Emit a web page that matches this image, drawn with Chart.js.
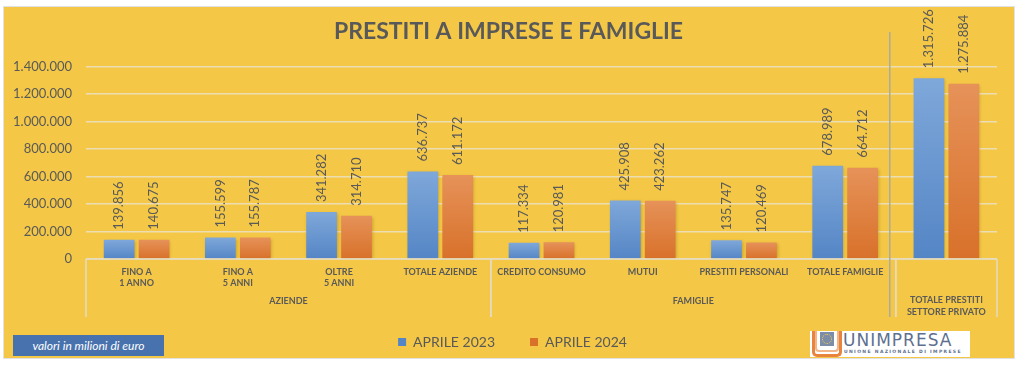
<!DOCTYPE html>
<html>
<head>
<meta charset="utf-8">
<script src="https://cdn.jsdelivr.net/npm/chart.js@4.4.1/dist/chart.umd.min.js"></script>
<style>
	body { margin: 0; background: #fff; }
	#panel { position: absolute; left: 3px; top: 6px; width: 1010px; height: 351px; background: #F4C846; border: 1px solid #E2E2E2; }
	#wrap { position: absolute; left: 0; top: 0; width: 1024px; height: 367px; }
	#nota { position: absolute; left: 13px; top: 335px; width: 151px; height: 21px; background: #4872AE; color: #fff;
		font: italic 12px Lato, sans-serif; line-height: 21px; text-align: center; }
	#logo { position: absolute; left: 810px; top: 331px; width: 160px; height: 26px; background: #fff; overflow: hidden; }
	#logo .u1 { position: absolute; left: 2px; top: -2px; width: 24px; height: 25px; border: 3px solid #E8843D; border-top: none; border-radius: 0 0 5px 5px; }
	#logo .u2 { position: absolute; left: 5px; top: -2px; width: 20px; height: 21px; border: 2px solid #F2B688; border-top: none; border-radius: 0 0 4px 4px; }
	#logo .eu { position: absolute; left: 10px; top: 1px; width: 14px; height: 14px; background: #7D8DA8; }
	#logo .eu div { position: absolute; left: 2px; top: 2px; width: 8px; height: 8px; border: 1px dotted #F3D24A; border-radius: 50%; }
	#logo .nome { position: absolute; left: 33px; top: 0px; font: 17px "DejaVu Sans", sans-serif; color: #5E7090; letter-spacing: 1px; line-height: 18px; }
	#logo .sotto { position: absolute; left: 34px; top: 18px; font: bold 4.5px "DejaVu Sans", sans-serif; color: #5E7090; letter-spacing: 1.35px; line-height: 6px; white-space: nowrap; }
</style>
</head>
<body>
<div id="panel"></div>
<div id="wrap"><canvas id="chart_prestiti"></canvas></div>
<div id="nota">valori in milioni di euro</div>
<div id="logo"><div class="u1"></div><div class="u2"></div><div class="eu"><div></div></div><span class="nome">UNIMPRESA</span><span class="sotto">UNIONE NAZIONALE DI IMPRESE</span></div>

<script>
// dati (milioni di euro)
const categorie = [
	["FINO A", "1 ANNO"], ["FINO A", "5 ANNI"], ["OLTRE", "5 ANNI"], "TOTALE AZIENDE",
	"CREDITO CONSUMO", "MUTUI", "PRESTITI PERSONALI", "TOTALE FAMIGLIE", ""
];
const aprile2023 = [139856, 155599, 341282, 636737, 117334, 425908, 135747, 678989, 1315726];
const aprile2024 = [140675, 155787, 314710, 611172, 120981, 423262, 120469, 664712, 1275884];
const gruppi = [["AZIENDE"], ["FAMIGLIE"], ["TOTALE PRESTITI", "SETTORE PRIVATO"]];
const gruppiInizio = [0, 4, 8];
const gruppiFine = [3, 7, 8];

const GRIGIO = "#595959";

function formatta(v) {
	return String(v).replace(/\B(?=(\d{3})+(?!\d))/g, ".");
}

function gradiente(c1, c2) {
	return function (context) {
		if (context.type !== "data") return c2;
		const chart = context.chart;
		if (!chart.chartArea) return c2;
		const y = chart.scales.y;
		const top = y.getPixelForValue(context.raw);
		const bottom = y.getPixelForValue(0);
		const g = chart.ctx.createLinearGradient(0, top, 0, bottom);
		g.addColorStop(0, c1);
		g.addColorStop(1, c2);
		return g;
	};
}

// etichette ruotate sopra le barre
const etichette = {
	id: "etichette",
	afterDatasetsDraw(chart) {
		const c = chart.ctx;
		c.save();
		c.fillStyle = GRIGIO;
		c.font = "13px Lato";
		c.textAlign = "left";
		c.textBaseline = "middle";
		chart.data.datasets.forEach((ds, i) => {
			chart.getDatasetMeta(i).data.forEach((bar, j) => {
				c.save();
				c.translate(bar.x, bar.y - 10);
				c.rotate(-Math.PI / 2);
				c.fillText(formatta(ds.data[j]), 0, 0);
				c.restore();
			});
		});
		c.restore();
	}
};

// ombra leggera delle barre
const ombra = {
	id: "ombra",
	beforeDatasetsDraw(chart) {
		const c = chart.ctx;
		c.save();
		c.shadowColor = "rgba(120, 80, 0, 0.35)";
		c.shadowBlur = 3;
		c.shadowOffsetX = 1;
		c.shadowOffsetY = 1;
	},
	afterDatasetsDraw(chart) {
		chart.ctx.restore();
	}
};

// titolo e legenda centrati sul riquadro giallo, non sul canvas
const centra = {
	id: "centra",
	afterLayout(chart) {
		chart.legend.left += 14;
		chart.legend.right += 14;
		chart.titleBlock.left += 10;
		chart.titleBlock.right += 10;
	}
};

// riquadro dell'asse x, gruppi e linea di separazione
const assex = {
	id: "assex",
	afterDraw(chart) {
		const c = chart.ctx;
		const x = chart.scales.x;
		const area = chart.chartArea;
		const passo = (area.right - area.left) / categorie.length;
		const fondo = area.bottom + 58;
		c.save();
		c.strokeStyle = "#E4DCC2";
		c.lineWidth = 1.5;
		c.beginPath();
		c.moveTo(area.left, area.bottom);
		c.lineTo(area.right, area.bottom);
		c.stroke();
		gruppi.forEach((g, i) => {
			const x0 = x.getPixelForValue(gruppiInizio[i]) - passo / 2;
			const x1 = x.getPixelForValue(gruppiFine[i]) + passo / 2;
			c.beginPath();
			c.moveTo(x0, area.bottom);
			c.lineTo(x0, fondo);
			c.moveTo(x1, area.bottom);
			c.lineTo(x1, fondo);
			c.stroke();
			c.fillStyle = GRIGIO;
			c.font = "bold 9px Lato";
			c.textAlign = "center";
			c.textBaseline = "middle";
			const cx = (x0 + x1) / 2;
			const y0 = g.length > 1 ? area.bottom + 41 : area.bottom + 42;
			g.forEach((riga, k) => c.fillText(riga, cx, y0 + k * 12));
		});
		// linea verticale prima del totale
		const xs = x.getPixelForValue(8) - passo / 2 - 6;
		c.strokeStyle = "#ABAB9C";
		c.lineWidth = 1.5;
		c.beginPath();
		c.moveTo(xs, 32);
		c.lineTo(xs, fondo);
		c.stroke();
		c.restore();
	}
};

const ctx = document.getElementById("chart_prestiti").getContext("2d");

let chart_prestiti = new Chart(ctx, {
	type: "bar",
	data: {
		labels: categorie,
		datasets: [
			{
				label: "APRILE 2023",
				data: aprile2023,
				backgroundColor: gradiente("#7FA8DA", "#5485C5"),
				categoryPercentage: 0.69,
				barPercentage: 0.88,
			},
			{
				label: "APRILE 2024",
				data: aprile2024,
				backgroundColor: gradiente("#E69259", "#D8712A"),
				categoryPercentage: 0.69,
				barPercentage: 0.88,
			}
		],
	},
	options: {
		responsive: true,
		maintainAspectRatio: false,
		animation: false,
		layout: {
			padding: { left: 0, right: 27, top: 0, bottom: 8 },
		},
		plugins: {
			title: {
				display: true,
				text: "PRESTITI A IMPRESE E FAMIGLIE",
				color: GRIGIO,
				font: { family: "Lato", size: 23, weight: "bold" },
				padding: { top: 18, bottom: 21 },
			},
			legend: {
				position: "bottom",
				labels: {
					color: GRIGIO,
					font: { family: "Lato", size: 14 },
					boxWidth: 8,
					boxHeight: 8,
					padding: 35,
				},
			},
			tooltip: { enabled: false },
		},
		scales: {
			x: {
				grid: { display: false, drawTicks: false },
				border: { display: false },
				ticks: {
					color: GRIGIO,
					font: { family: "Lato", size: 9, weight: "bold" },
					padding: 8,
					maxRotation: 0,
					autoSkip: false,
				},
				afterFit(scale) { scale.height = 41; },
			},
			y: {
				min: 0,
				max: 1400000,
				border: { display: false },
				grid: { color: "#EDDDB2", lineWidth: 1.5, drawTicks: false },
				ticks: {
					stepSize: 200000,
					color: GRIGIO,
					font: { family: "Lato", size: 13 },
					padding: 14,
					callback: (v) => formatta(v),
				},
				afterFit(scale) { scale.width = 86; },
			},
		},
	},
	plugins: [centra, ombra, etichette, assex],
});
</script>
</body>
</html>
